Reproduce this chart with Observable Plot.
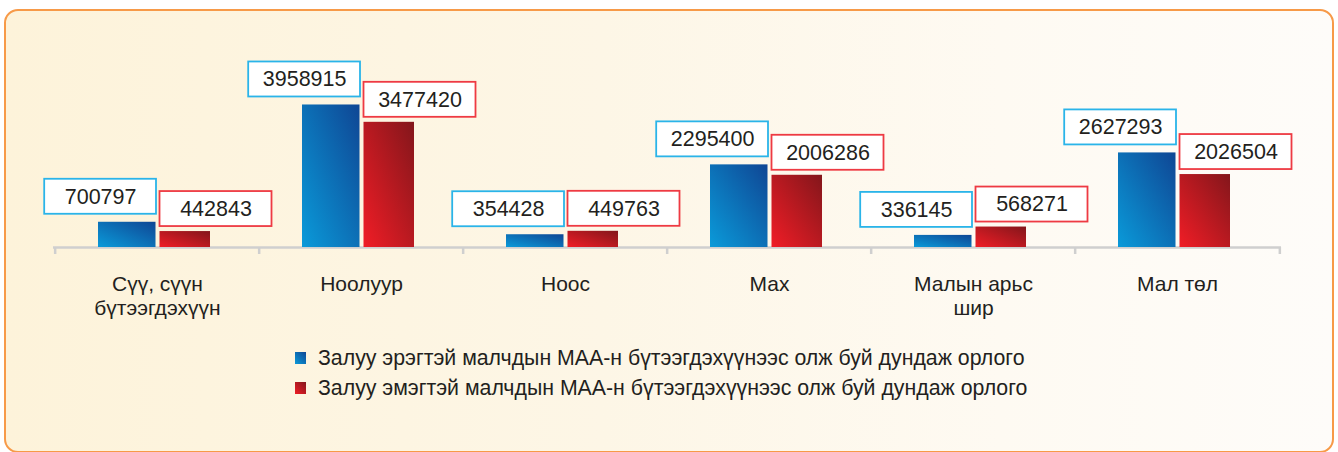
<!DOCTYPE html>
<html>
<head>
<meta charset="utf-8">
<script src="https://cdn.jsdelivr.net/npm/d3@7"></script>
<script src="https://cdn.jsdelivr.net/npm/@observablehq/plot@0.6"></script>
<style>
  html, body { margin: 0; padding: 0; background: #ffffff; }
  body { width: 1338px; height: 452px; overflow: hidden; position: relative; font-family: "Liberation Sans", Arial, sans-serif; }
  #frame {
    position: absolute; left: 4px; top: 9px; width: 1330px; height: 444px;
    box-sizing: border-box; border: 2px solid #f79a48; border-radius: 14px;
    background: linear-gradient(to right, #fdf3da 0%, #fdf6e6 45%, #fefaf2 75%, #fefcf9 100%);
  }
  #chart { position: absolute; left: 0; top: 0; }
  #legend { position: absolute; left: 295px; top: 343px; color: #231f20; font-size: 21.3px; }
  .item { display: flex; align-items: center; height: 30px; }
  .sw { width: 11px; height: 12px; margin-right: 12px; }
</style>
</head>
<body>
<div id="frame"></div>
<div id="chart"></div>
<div id="legend"></div>
<script>
const categories = ["Сүү, сүүн бүтээгдэхүүн", "Ноолуур", "Ноос", "Мах", "Малын арьс шир", "Мал төл"];
const tickLabels = ["Сүү, сүүн\nбүтээгдэхүүн", "Ноолуур", "Ноос", "Мах", "Малын арьс\nшир", "Мал төл"];
const maleIncome = [700797, 3958915, 354428, 2295400, 336145, 2627293];
const femaleIncome = [442843, 3477420, 449763, 2006286, 568271, 2026504];
const seriesNames = [
  "Залуу эрэгтэй малчдын МАА-н бүтээгдэхүүнээс олж буй дундаж орлого",
  "Залуу эмэгтэй малчдын МАА-н бүтээгдэхүүнээс олж буй дундаж орлого"
];

const male = categories.map((c, i) => ({cat: c, value: maleIncome[i]}));
const female = categories.map((c, i) => ({cat: c, value: femaleIncome[i]}));

const W = 1338, H = 330, mL = 53, mR = 57, mT = 103, mB = 83;
const band = (W - mL - mR) / categories.length;
const textColor = "#231f20";

const plot = Plot.plot({
  width: W, height: H,
  marginTop: mT, marginBottom: mB, marginLeft: mL, marginRight: mR,
  x: {domain: categories, padding: 0},
  y: {domain: [0, 4000000], axis: null},
  style: {fontFamily: "'Liberation Sans', Arial, sans-serif", background: "transparent", overflow: "visible", color: textColor},
  marks: [
    Plot.ruleY([0], {stroke: "#cfcfcf", strokeWidth: 2.5}),
    Plot.ruleX(categories, {x: d => d, dx: -band / 2, stroke: "#cfcfcf", strokeWidth: 2.5, insetTop: H - mT - mB, insetBottom: -7}),
    Plot.ruleX(categories.slice(-1), {x: d => d, dx: band / 2, stroke: "#cfcfcf", strokeWidth: 2.5, insetTop: H - mT - mB, insetBottom: -7}),
    Plot.barY(male, {x: "cat", y: "value", fill: "url(#gBlue)", insetLeft: 43, insetRight: 103.5}),
    Plot.barY(female, {x: "cat", y: "value", fill: "url(#gRed)", insetLeft: 104.5, insetRight: 49}),
    // label boxes
    Plot.barY(male, {x: "cat", y1: "value", y2: "value", fill: "white", stroke: "#2ab4e9", strokeWidth: 1.8,
      insetLeft: -10.8, insetRight: 103, insetTop: -43, insetBottom: 8}),
    Plot.barY(female, {x: "cat", y1: "value", y2: "value", fill: "white", stroke: "#ee3a43", strokeWidth: 1.8,
      insetLeft: 104.5, insetRight: -12.5, insetTop: -40, insetBottom: 5}),
    Plot.text(male, {x: "cat", y: "value", text: d => String(d.value), fontSize: 21.5, fill: textColor,
      dx: -56.9, dy: -25.5, textAnchor: "middle", lineAnchor: "middle"}),
    Plot.text(female, {x: "cat", y: "value", text: d => String(d.value), fontSize: 21.5, fill: textColor,
      dx: 58.5, dy: -22.5, textAnchor: "middle", lineAnchor: "middle"}),
    Plot.axisX({tickSize: 0, tickPadding: 26, fontSize: 21, lineHeight: 1.15, fill: textColor,
      tickFormat: d => tickLabels[categories.indexOf(d)], label: null})
  ]
});

// gradients
const svg = d3.select(plot);
const defs = svg.insert("defs", ":first-child");
function grad(id, light, dark) {
  const g = defs.append("linearGradient").attr("id", id)
    .attr("x1", 0).attr("y1", 1).attr("x2", 1).attr("y2", 0);
  g.append("stop").attr("offset", "0%").attr("stop-color", light);
  g.append("stop").attr("offset", "100%").attr("stop-color", dark);
}
grad("gBlue", "#0a9ad9", "#0f4694");
grad("gRed", "#f01d26", "#83161b");

document.getElementById("chart").appendChild(plot);

const legend = document.getElementById("legend");
const swatches = [
  "linear-gradient(45deg, #0a9ad9, #0f4694)",
  "linear-gradient(45deg, #f01d26, #83161b)"
];
seriesNames.forEach((name, i) => {
  const item = document.createElement("div");
  item.className = "item";
  const sw = document.createElement("span");
  sw.className = "sw";
  sw.style.background = swatches[i];
  const t = document.createElement("span");
  t.textContent = name;
  item.appendChild(sw);
  item.appendChild(t);
  legend.appendChild(item);
});
</script>
</body>
</html>
